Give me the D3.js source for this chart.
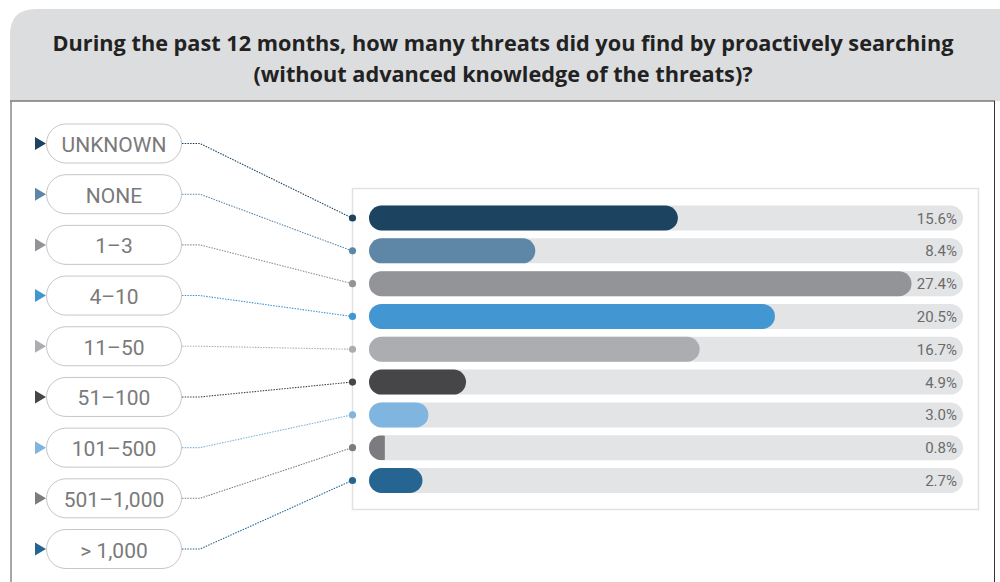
<!DOCTYPE html>
<html><head><meta charset="utf-8">
<script src="https://cdn.jsdelivr.net/npm/d3@7"></script>
<style>html,body{margin:0;padding:0;background:#fff;}svg{display:block;}</style>
</head><body>
<svg id="c" width="1000" height="582"></svg>
<script>
const titleLines = ["During the past 12 months, how many threats did you find by proactively searching", "(without advanced knowledge of the threats)?"];
const categories = ["UNKNOWN", "NONE", "1–3", "4–10", "11–50", "51–100", "101–500", "501–1,000", "> 1,000"];
const values = [15.6, 8.4, 27.4, 20.5, 16.7, 4.9, 3.0, 0.8, 2.7];
const valueLabels = ["15.6%", "8.4%", "27.4%", "20.5%", "16.7%", "4.9%", "3.0%", "0.8%", "2.7%"];
const colors = ["#1c4461", "#5e86a6", "#939497", "#4297d3", "#acadb0", "#464649", "#7fb5de", "#7c7c80", "#266592"];
const xDomain = [0, 30];

const svg = d3.select("#c");

// header
const hx = 10, hy = 9, hr = 26, hb = 101;
svg.append("path")
  .attr("d", `M${hx},${hb} L${hx},${hy+hr} Q${hx},${hy} ${hx+hr},${hy} L1000,${hy} L1000,${hb} Z`)
  .attr("fill", "#dcdddf");
svg.append("line").attr("x1", hx).attr("x2", 995).attr("y1", hb).attr("y2", hb)
  .attr("stroke", "#7a7a7a").attr("stroke-width", 1.5);
svg.append("line").attr("x1", 11).attr("x2", 11).attr("y1", hb).attr("y2", 582)
  .attr("stroke", "#8a8a8a").attr("stroke-width", 1.5);
svg.append("line").attr("x1", 994.5).attr("x2", 994.5).attr("y1", hb).attr("y2", 582)
  .attr("stroke", "#333").attr("stroke-width", 1);

svg.selectAll("text.title").data(titleLines).join("text")
  .attr("class", "title")
  .attr("x", 503).attr("y", (d, i) => 51 + i * 31)
  .attr("text-anchor", "middle")
  .attr("font-family", "'Open Sans', sans-serif").attr("font-weight", 700)
  .attr("font-size", 21.7).attr("fill", "#222")
  .text(d => d);

// scales
const x = d3.scaleLinear().domain(xDomain).range([369, 963]);
const yBar = d3.scalePoint().domain(categories).range([218, 480.5]);
const yPill = d3.scalePoint().domain(categories).range([143.5, 549]);
const barH = 25;

// panel box
svg.append("rect").attr("x", 352.5).attr("y", 188.5).attr("width", 626).attr("height", 321)
  .attr("fill", "#fff").attr("stroke", "#e2e2e2").attr("stroke-width", 1.5);

// tracks
svg.selectAll("rect.track").data(categories).join("rect")
  .attr("class", "track")
  .attr("x", x(0)).attr("y", d => yBar(d) - barH / 2)
  .attr("width", x(xDomain[1]) - x(0)).attr("height", barH)
  .attr("rx", barH / 2).attr("fill", "#e3e4e6");

// bars (rounded pill clipped to value length)
const defs = svg.append("defs");
values.forEach((v, i) => {
  const w = x(v) - x(0);
  const yc = yBar(categories[i]);
  if (w >= barH) {
    svg.append("rect").attr("class", "bar")
      .attr("x", x(0)).attr("y", yc - barH / 2).attr("width", w).attr("height", barH)
      .attr("rx", barH / 2).attr("fill", colors[i]);
  } else {
    defs.append("clipPath").attr("id", "clip" + i)
      .append("rect").attr("x", x(0)).attr("y", yc - barH / 2).attr("width", w).attr("height", barH);
    svg.append("rect").attr("class", "bar").attr("clip-path", `url(#clip${i})`)
      .attr("x", x(0)).attr("y", yc - barH / 2).attr("width", barH).attr("height", barH)
      .attr("rx", barH / 2).attr("fill", colors[i]);
  }
});

// value labels
svg.selectAll("text.val").data(valueLabels).join("text")
  .attr("class", "val")
  .attr("x", 957).attr("y", (d, i) => yBar(categories[i]) + 5.5)
  .attr("text-anchor", "end")
  .attr("font-family", "Roboto, sans-serif").attr("font-size", 15)
  .attr("fill", "#6b6b6b")
  .text(d => d);

// connectors
svg.selectAll("path.conn").data(categories).join("path")
  .attr("class", "conn")
  .attr("d", (d) => `M182,${yPill(d)} L200,${yPill(d)} L352,${yBar(d)}`)
  .attr("fill", "none")
  .attr("stroke", (d, i) => colors[i]).attr("stroke-width", 1.1)
  .attr("stroke-dasharray", "1.5,1.2");

svg.selectAll("circle.dot").data(categories).join("circle")
  .attr("class", "dot")
  .attr("cx", 352.5).attr("cy", d => yBar(d)).attr("r", 3.6)
  .attr("fill", (d, i) => colors[i]);

// pills
svg.selectAll("rect.pill").data(categories).join("rect")
  .attr("class", "pill")
  .attr("x", 46.5).attr("y", d => yPill(d) - 19.5)
  .attr("width", 135).attr("height", 39).attr("rx", 19.5)
  .attr("fill", "#fff").attr("stroke", "#c6c6c6").attr("stroke-width", 1);

svg.selectAll("path.tri").data(categories).join("path")
  .attr("class", "tri")
  .attr("d", d => `M35,${yPill(d) - 6.5} L46,${yPill(d)} L35,${yPill(d) + 6.5} Z`)
  .attr("fill", (d, i) => colors[i]);

svg.selectAll("text.cat").data(categories).join("text")
  .attr("class", "cat")
  .attr("x", 114).attr("y", d => yPill(d) + 8.5)
  .attr("text-anchor", "middle")
  .attr("font-family", "Roboto, sans-serif").attr("font-size", 21)
  .attr("fill", "#7a7a7a")
  .text(d => d);
</script>
</body></html>
